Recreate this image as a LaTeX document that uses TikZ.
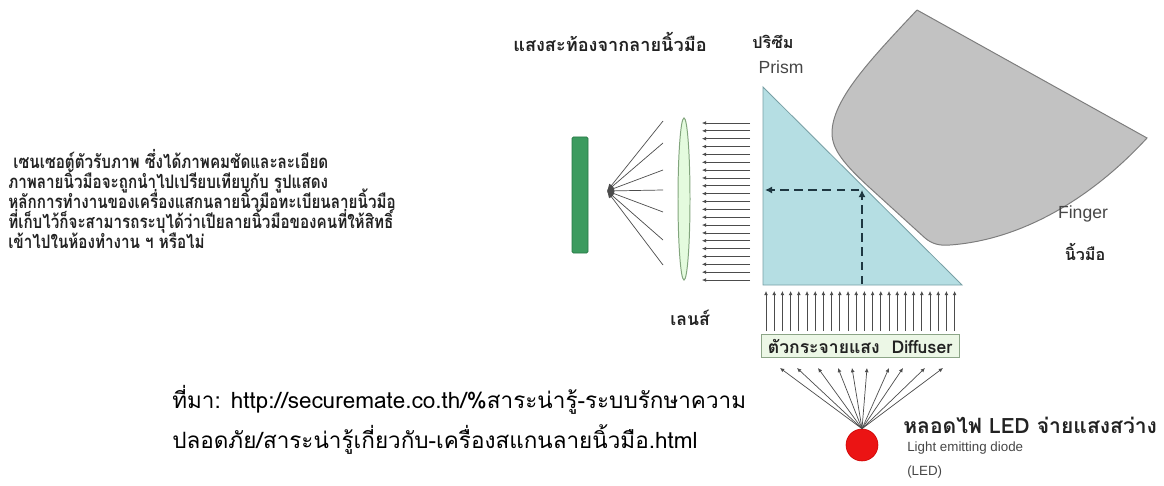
\documentclass[tikz,border=0pt]{standalone}
\usepackage{fontspec}
\setmainfont{Liberation Sans}
\newfontfamily\thaifont[Script=Thai]{Loma}
\newfontfamily\thainarrow[Script=Thai,FakeStretch=0.82]{Loma}
\usetikzlibrary{positioning,shapes.geometric,arrows.meta}
\setlength{\lineskiplimit}{-20pt}
\definecolor{PrismBlue}{RGB}{181,222,227}
\definecolor{PrismEdge}{RGB}{120,160,165}
\definecolor{LensGreen}{RGB}{228,251,222}
\definecolor{LensEdge}{RGB}{130,165,125}
\definecolor{SensorGreen}{RGB}{60,155,95}
\definecolor{SensorEdge}{RGB}{40,120,70}
\definecolor{FingerGray}{RGB}{194,194,194}
\definecolor{FingerEdge}{RGB}{125,125,125}
\definecolor{LedRed}{RGB}{235,20,20}
\definecolor{DiffGreen}{RGB}{236,247,230}
\definecolor{DiffEdge}{RGB}{140,165,135}
\definecolor{TextDark}{RGB}{34,34,34}
\definecolor{TextGray}{RGB}{70,70,70}
\definecolor{DashTeal}{RGB}{30,55,65}
\tikzset{
    thaitext/.style={font=\thaifont\bfseries\fontsize{11.5}{14.2}\selectfont, text=TextDark, inner sep=0pt},
    engtext/.style={font=\fontsize{9.5}{17}\selectfont, text=TextGray, inner sep=0pt},
    ray/.style={draw=black!70, line width=0.5pt},
    raytip/.style={ray, -{Latex[length=3pt,width=2.8pt]}}
}

\begin{document}
\begin{tikzpicture}[
        x=0.025cm, y=-0.025cm,
        sensor/.style={rectangle, rounded corners=1pt, fill=SensorGreen, draw=SensorEdge, minimum width=0.4cm, minimum height=2.9cm},
        lens/.style={ellipse, fill=LensGreen, draw=LensEdge, line width=0.7pt, minimum width=0.3cm, minimum height=4.05cm, inner sep=0pt},
        prism/.style={fill=PrismBlue, draw=PrismEdge, line width=0.6pt},
        finger/.style={fill=FingerGray, draw=FingerEdge, line width=0.7pt},
        diffuser/.style={rectangle, fill=DiffGreen, draw=DiffEdge, line width=0.6pt, minimum width=4.95cm, minimum height=0.575cm,
            inner sep=0pt, font=\thaifont\bfseries\fontsize{12.5}{14}\selectfont, text=TextDark},
        led/.style={circle, fill=LedRed, draw=red!80!black, minimum size=0.8cm, inner sep=0pt},
        dashray/.style={draw=DashTeal, line width=1.5pt, dash pattern=on 6pt off 4pt, -{Latex[length=5pt,width=5pt]}}
    ]
    \useasboundingbox (0,0) rectangle (1164,486);

    % prism and finger
    \coordinate (ptop) at (763,87);
    \coordinate (pleft) at (763,285);
    \coordinate (pright) at (962,285);
    \draw[prism] (ptop) -- (pright) -- (pleft) -- cycle;
    \draw[finger] (917,10) -- (1147,138)
        .. controls (1090,200) and (1020,240) .. (950,245)
        .. controls (940,246) and (932,244) .. (925,238)
        -- (870,188)
        .. controls (845,165) and (832,150) .. (832,133)
        .. controls (832,100) and (870,60) .. (917,10);

    % light path inside the prism
    \coordinate (hit) at (862,190);
    \draw[dashray] (862,284) -- (hit);
    \draw[dashray] (859,190) -- (765,190);

    % sensor, lens and rays
    \node[sensor] (sensor) at (580,195) {};
    \node[lens] (lens) at (684,199) {};
    \coordinate (focus) at (607,191);
    \foreach \y in {121,143,170,190,212,240,265}
        \draw[ray, -{Latex[length=5pt,width=4pt]}] (663,\y) -- (focus);
    \foreach \i in {0,...,20}
        \draw[raytip] (750,{123+\i*7.85}) -- (702,{123+\i*7.85});

    % diffuser and LED
    \node[diffuser] (diffuser) at (860,346) {ตัวกระจายแสง\ \ Diffuser};
    \foreach \i in {0,...,23}
        \draw[raytip] ({766+\i*8.2},331) -- ({766+\i*8.2},291);
    \node[led] (led) at (862,445) {};
    \foreach \x in {780,797,818,838,852,867,889,903,925,943}
        \draw[raytip] (led.north) -- (\x,368);

    % labels
    \node[thaitext, font=\thaifont\bfseries\fontsize{12.9}{15}\selectfont] (reflect) at (610,42) {แสงสะท้องจากลายนิ้วมือ};
    \node[thaitext] (prismth) at (773,42) {ปริซึม};
    \node[engtext, font=\fontsize{12.5}{15}\selectfont] (prismen) at (781,67) {Prism};
    \node[thaitext, font=\thaifont\bfseries\fontsize{12.5}{15}\selectfont] (lensth) at (690,318) {เลนส์};
    \node[engtext, font=\fontsize{12.5}{15}\selectfont] (fingeren) at (1083,214) {Finger};
    \node[thaitext] (fingerth) at (1085,252) {นิ้วมือ};
    \node[thaitext, anchor=west, font=\thaifont\bfseries\fontsize{15}{18}\selectfont] (ledth) at (903,425) {หลอดไฟ LED จ่ายแสงสว่าง};
    \node[engtext, anchor=north west, align=left] (leden) at (907,442) {Light emitting diode\\(LED)};

    \node[thaitext, anchor=west, align=left,
          font=\thainarrow\bfseries\fontsize{13.2}{14.1}\selectfont] (sensortext) at (8,199)
        {\ เซนเซอต์ตัวรับภาพ ซึ่งได้ภาพคมชัดและละเอียด\\
         ภาพลายนิ้วมือจะถูกนำไปเปรียบเทียบกับ รูปแสดง\\
         หลักการทำงานของเครื่องแสกนลายนิ้วมือทะเบียนลายนิ้วมือ\\
         ที่เก็บไว้ก็จะสามารถระบุได้ว่าเปียลายนิ้วมือของคนที่ให้สิทธิ์\\
         เข้าไปในห้องทำงาน ฯ หรือไม่};

    \node[anchor=north west, align=left, inner sep=0pt, text=black,
          font=\thaifont\fontsize{16}{28.3}\selectfont] (source) at (172,385)
        {ที่มา: http://securemate.co.th/\%สาระน่ารู้-ระบบรักษาความ\\
         ปลอดภัย/สาระน่ารู้เกี่ยวกับ-เครื่องสแกนลายนิ้วมือ.html};
\end{tikzpicture}
\end{document}
